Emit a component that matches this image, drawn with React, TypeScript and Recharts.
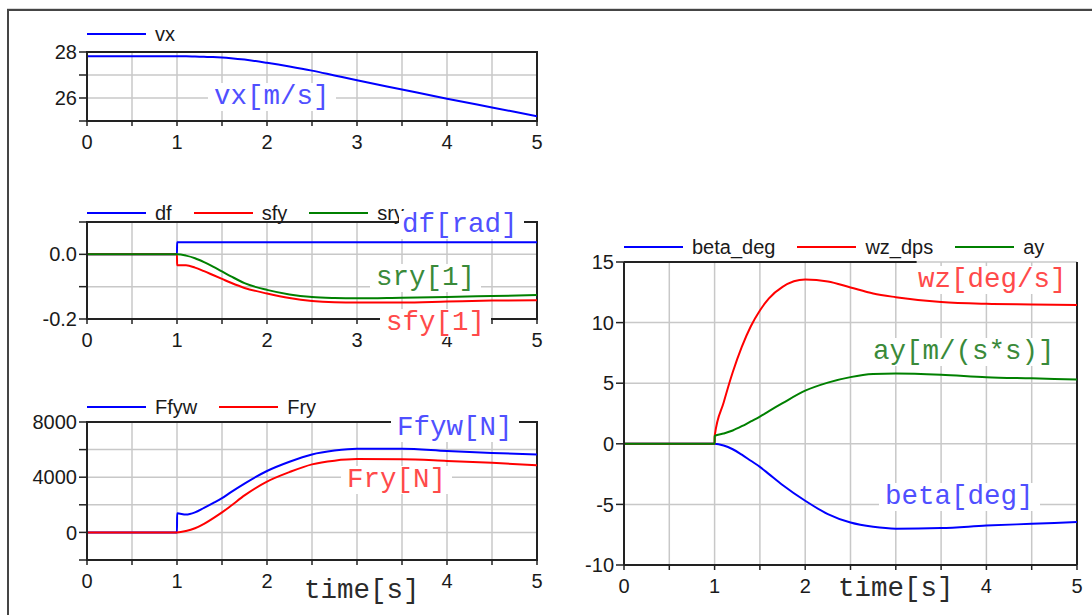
import React from "react";
import {
  LineChart,
  Line,
  XAxis,
  YAxis,
  CartesianGrid,
  Legend,
  ReferenceArea,
  ReferenceLine,
} from "recharts";

// simulation time [s]
const time = [0, 1, 1.001, 1.1, 1.2, 1.3, 1.4, 1.5, 1.6, 1.75, 2, 2.25, 2.5, 2.75, 3, 3.5, 4, 4.5, 5];
const timeTicks = [0, 0.5, 1, 1.5, 2, 2.5, 3, 3.5, 4, 4.5, 5];

// panel 1
const vx = [27.81, 27.81, 27.81, 27.81, 27.8, 27.79, 27.78, 27.76, 27.73, 27.67, 27.53, 27.37, 27.19, 26.98, 26.77, 26.37, 25.97, 25.59, 25.21];

// panel 2
const df = [0, 0, 0.037, 0.037, 0.037, 0.037, 0.037, 0.037, 0.037, 0.037, 0.037, 0.037, 0.037, 0.037, 0.037, 0.037, 0.037, 0.037, 0.037];
const sfy = [0, 0, -0.034, -0.034, -0.041, -0.052, -0.064, -0.076, -0.088, -0.104, -0.121, -0.135, -0.144, -0.148, -0.149, -0.149, -0.146, -0.143, -0.142];
const sry = [0, 0, 0, -0.004, -0.012, -0.024, -0.038, -0.053, -0.068, -0.089, -0.11, -0.124, -0.132, -0.135, -0.136, -0.134, -0.132, -0.129, -0.126];

// panel 3
const Ffyw = [0, 0, 1390, 1290, 1450, 1780, 2120, 2480, 2920, 3540, 4450, 5120, 5650, 5930, 6070, 6070, 5900, 5760, 5640];
const Fry = [0, 0, 0, 100, 300, 620, 1020, 1450, 1930, 2680, 3680, 4370, 4930, 5200, 5310, 5300, 5180, 5040, 4870];

// panel 4
const beta_deg = [0, 0, 0, -0.14, -0.45, -0.9, -1.4, -1.9, -2.5, -3.4, -4.7, -5.8, -6.5, -6.85, -7.0, -6.95, -6.75, -6.6, -6.45];
const wz_dps = [0, 0, 0.65, 3.4, 5.9, 8.0, 9.7, 11.0, 12.0, 12.95, 13.55, 13.4, 12.9, 12.4, 12.1, 11.7, 11.55, 11.5, 11.45];
const ay = [0, 0, 0.65, 0.85, 1.1, 1.45, 1.85, 2.25, 2.7, 3.35, 4.38, 5.05, 5.5, 5.75, 5.8, 5.7, 5.5, 5.4, 5.3];

const BLUE = "#0000ff";
const RED = "#ff0000";
const GREEN = "#008000";
const AXIS = "#222";

type Series = { key: string; color: string; values: number[] };

function LegendRow({ items }: { items: Series[] }) {
  return (
    <div style={{ display: "flex", alignItems: "center", fontSize: 20, lineHeight: "22px", color: "#1a1a1a", whiteSpace: "nowrap" }}>
      {items.map((s) => (
        <div key={s.key} style={{ display: "flex", alignItems: "center", marginRight: 22 }}>
          <div style={{ width: 59, height: 2, background: s.color, marginRight: 9 }} />
          <span>{s.key}</span>
        </div>
      ))}
    </div>
  );
}

type PanelProps = {
  left: number;
  top: number;
  width: number;
  height: number;
  margin: { top: number; right: number; bottom: number; left: number };
  series: Series[];
  yDomain: [number, number];
  yTicks: number[];
  yFormat: (v: number) => string;
  legendTop: number;
  legendLeft: number;
  topEdgeEnd?: number;
};

function Panel(p: PanelProps) {
  const data = time.map((t, i) => {
    const row: Record<string, number> = { t };
    p.series.forEach((s) => (row[s.key] = s.values[i]));
    return row;
  });
  const [y0, y1] = p.yDomain;
  return (
    <div style={{ position: "absolute", left: p.left, top: p.top }}>
      <LineChart width={p.width} height={p.height} data={data} margin={p.margin}>
        <CartesianGrid stroke="#c8c8c8" strokeWidth={1.5} />
        <XAxis
          type="number"
          dataKey="t"
          domain={[0, 5]}
          ticks={timeTicks}
          interval={0}
          tickFormatter={(v: number) => (Number.isInteger(v) ? String(v) : "")}
          height={30}
          tickSize={5}
          tickMargin={9}
          axisLine={{ stroke: AXIS, strokeWidth: 2 }}
          tickLine={{ stroke: AXIS, strokeWidth: 1.5 }}
          tick={{ fill: "#1a1a1a", fontSize: 20 }}
          allowDataOverflow
        />
        <YAxis
          type="number"
          domain={p.yDomain}
          ticks={p.yTicks}
          interval={0}
          tickFormatter={p.yFormat}
          width={60}
          tickSize={8}
          tickMargin={2}
          axisLine={{ stroke: AXIS, strokeWidth: 2 }}
          tickLine={{ stroke: AXIS, strokeWidth: 1.5 }}
          tick={{ fill: "#1a1a1a", fontSize: 20 }}
          allowDataOverflow
        />
        {p.topEdgeEnd === undefined ? (
          <ReferenceArea x1={0} x2={5} y1={y0} y2={y1} fill="none" stroke={AXIS} strokeWidth={2} ifOverflow="visible" />
        ) : null}
        {p.topEdgeEnd !== undefined ? (
          <ReferenceLine segment={[{ x: 0, y: y1 }, { x: p.topEdgeEnd, y: y1 }]} stroke={AXIS} strokeWidth={2} ifOverflow="visible" />
        ) : null}
        {p.topEdgeEnd !== undefined ? <ReferenceLine x={5} stroke={AXIS} strokeWidth={2} ifOverflow="visible" /> : null}
        {p.series.map((s) => (
          <Line
            key={s.key}
            dataKey={s.key}
            name={s.key}
            type="monotone"
            stroke={s.color}
            strokeWidth={2}
            dot={false}
            activeDot={false}
            isAnimationActive={false}
          />
        ))}
        <Legend
          layout="horizontal"
          verticalAlign="middle"
          align="center"
          wrapperStyle={{ left: p.legendLeft, top: p.legendTop, width: "auto" }}
          content={() => <LegendRow items={p.series} />}
        />
      </LineChart>
    </div>
  );
}

function Tag({ text, color, x, cy, h = 28, padL = 6 }: { text: string; color: string; x: number; cy: number; h?: number; padL?: number }) {
  return (
    <div
      style={{
        position: "absolute",
        left: x - padL,
        top: cy - h / 2,
        height: h,
        lineHeight: `${h}px`,
        padding: `0 6px 0 ${padL}px`,
        background: "#fff",
        color,
        fontFamily: "'Liberation Mono', 'DejaVu Sans Mono', monospace",
        fontSize: 27.5,
        whiteSpace: "nowrap",
      }}
    >
      {text}
    </div>
  );
}

const tags = [
  { text: "vx[m/s]", color: "#5050ff", x: 214, cy: 97 },
  { text: "df[rad]", color: "#5050ff", x: 402, cy: 225, padL: 3 },
  { text: "sry[1]", color: "#3a8a3a", x: 376, cy: 278 },
  { text: "sfy[1]", color: "#ff4a4a", x: 386, cy: 323 },
  { text: "Ffyw[N]", color: "#5050ff", x: 397, cy: 428 },
  { text: "Fry[N]", color: "#ff4a4a", x: 347, cy: 480 },
  { text: "time[s]", color: "#2a2a2a", x: 304, cy: 591, h: 38 },
  { text: "wz[deg/s]", color: "#ff4a4a", x: 918, cy: 280 },
  { text: "ay[m/(s*s)]", color: "#3a8a3a", x: 873, cy: 352 },
  { text: "beta[deg]", color: "#5050ff", x: 885, cy: 497 },
  { text: "time[s]", color: "#2a2a2a", x: 838, cy: 589, h: 38 },
];

export default function App() {
  return (
    <div
      style={{
        position: "absolute",
        left: 0,
        top: 0,
        width: 1092,
        height: 615,
        overflow: "hidden",
        background: "#fff",
        fontFamily: "'Liberation Sans', Arial, sans-serif",
      }}
    >
      <div
        style={{
          position: "absolute",
          left: 7,
          top: 9,
          width: 1100,
          height: 620,
          borderTop: "2px solid #454545",
          borderLeft: "2px solid #454545",
          boxShadow: "0 -1px 0 #d8d8d8",
        }}
      />
      <Panel
        left={0}
        top={20}
        width={560}
        height={150}
        margin={{ top: 32, right: 23, bottom: 19, left: 27 }}
        series={[{ key: "vx", color: BLUE, values: vx }]}
        yDomain={[25, 28]}
        yTicks={[25, 26, 27, 28]}
        yFormat={(v) => (v === 28 || v === 26 ? String(v) : "")}
        legendLeft={87}
        legendTop={3}
      />
      <Panel
        left={0}
        top={190}
        width={560}
        height={170}
        margin={{ top: 32, right: 23, bottom: 11, left: 27 }}
        series={[
          { key: "df", color: BLUE, values: df },
          { key: "sfy", color: RED, values: sfy },
          { key: "sry", color: GREEN, values: sry },
        ]}
        yDomain={[-0.2, 0.1]}
        yTicks={[-0.2, -0.1, 0, 0.1]}
        yFormat={(v) => (v === 0 ? "0.0" : v === -0.2 ? "-0.2" : "")}
        legendLeft={87}
        legendTop={12}
      />
      <Panel
        left={0}
        top={390}
        width={560}
        height={215}
        margin={{ top: 32, right: 23, bottom: 15, left: 27 }}
        series={[
          { key: "Ffyw", color: BLUE, values: Ffyw },
          { key: "Fry", color: RED, values: Fry },
        ]}
        yDomain={[-2000, 8000]}
        yTicks={[-2000, 0, 2000, 4000, 6000, 8000]}
        yFormat={(v) => (v % 4000 === 0 ? String(v) : "")}
        legendLeft={87}
        legendTop={6}
      />
      <Panel
        left={540}
        top={230}
        width={552}
        height={380}
        margin={{ top: 32, right: 15, bottom: 15, left: 24 }}
        series={[
          { key: "beta_deg", color: BLUE, values: beta_deg },
          { key: "wz_dps", color: RED, values: wz_dps },
          { key: "ay", color: GREEN, values: ay },
        ]}
        yDomain={[-10, 15]}
        yTicks={[-10, -5, 0, 5, 10, 15]}
        yFormat={(v) => String(v)}
        legendLeft={84}
        legendTop={6}
        topEdgeEnd={3.23}
      />
      {tags.map((t, i) => (
        <Tag key={i} {...t} />
      ))}
    </div>
  );
}
